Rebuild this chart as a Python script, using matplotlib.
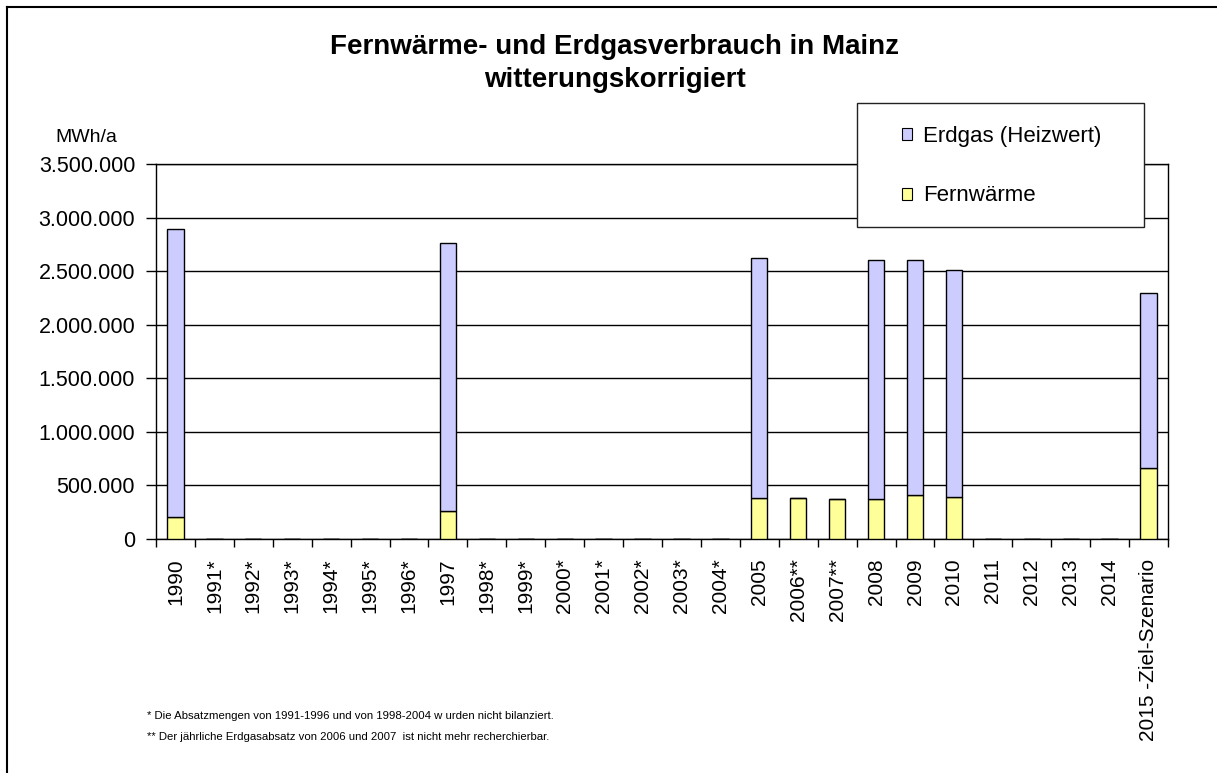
import numpy as np
import matplotlib
matplotlib.use("Agg")
import matplotlib.pyplot as plt
from matplotlib.lines import Line2D
from matplotlib.patches import Patch, Rectangle

plt.rcParams['font.family'] = ['Liberation Sans', 'DejaVu Sans']

# ----------------------------
# Data (MWh/a)
# ----------------------------

years = ["1990", "1991*", "1992*", "1993*", "1994*", "1995*", "1996*", "1997",
         "1998*", "1999*", "2000*", "2001*", "2002*", "2003*", "2004*", "2005",
         "2006**", "2007**", "2008", "2009", "2010", "2011", "2012", "2013",
         "2014", "2015 -Ziel-Szenario"]

fernwaerme = [210000, 0, 0, 0, 0, 0, 0, 265000,
              0, 0, 0, 0, 0, 0, 0, 380000,
              380000, 370000, 370000, 410000, 395000, 0, 0, 0,
              0, 660000]

erdgas = [2680000, 0, 0, 0, 0, 0, 0, 2495000,
          0, 0, 0, 0, 0, 0, 0, 2240000,
          0, 0, 2235000, 2195000, 2115000, 0, 0, 0,
          0, 1640000]

footnotes = ["* Die Absatzmengen von 1991-1996 und von 1998-2004 w urden nicht bilanziert.",
             "** Der jährliche Erdgasabsatz von 2006 und 2007  ist nicht mehr recherchierbar."]

# ----------------------------
# Plot
# ----------------------------

W, H = 1217, 773
fig = plt.figure(figsize=(W / 100, H / 100), dpi=100)

# chart border (only top/left visible)
fig.add_artist(Line2D([7 / W, 1], [1 - 7 / H, 1 - 7 / H], color="black", lw=1.5))
fig.add_artist(Line2D([7 / W, 7 / W], [0, 1 - 7 / H], color="black", lw=1.5))

ax = fig.add_axes([156 / W, 1 - 539 / H, 1012 / W, 375 / H])

x = np.arange(len(years))
fern = np.array(fernwaerme)
gas = np.array(erdgas)

ax.bar(x, fern, width=0.42, color="#FFFF99", edgecolor="black", linewidth=1, zorder=3)
ax.bar(x, gas, width=0.42, bottom=fern, color="#CCCCFF", edgecolor="black",
       linewidth=1, zorder=3)

ax.set_xlim(-0.5, len(years) - 0.5)
ax.set_ylim(0, 3500000)

yt = np.arange(0, 3500001, 500000)
ax.set_yticks(yt)
ax.set_yticklabels([f"{v:,}".replace(",", ".") for v in yt], fontsize=15.5)
ax.yaxis.grid(True, color="black", linewidth=1)
ax.set_axisbelow(True)

ax.set_xticks(x)
ax.set_xticklabels(years, rotation=90, fontsize=15, va="top")
ax.tick_params(axis="x", which="major", length=0, pad=14)
ax.set_xticks(np.arange(-0.5, len(years), 1), minor=True)
ax.tick_params(axis="x", which="minor", length=6, width=1, direction="out")
ax.tick_params(axis="y", length=7, width=1, direction="out", pad=8)

for s in ax.spines.values():
    s.set_color("black")
    s.set_linewidth(1)

fig.text(86 / W, 1 - 138 / H, "MWh/a", fontsize=14, ha="center", va="center")

fig.text(615 / W, 1 - 47 / H, "Fernwärme- und Erdgasverbrauch in Mainz",
         fontsize=20, fontweight="bold", ha="center", va="center")
fig.text(615 / W, 1 - 80 / H, "witterungskorrigiert",
         fontsize=20, fontweight="bold", ha="center", va="center")

# legend box
fig.add_artist(Rectangle((857 / W, 1 - 227 / H), 287 / W, 124 / H,
                         transform=fig.transFigure, facecolor="white",
                         edgecolor="#222222", linewidth=1, zorder=5))
handles = [Patch(facecolor="#CCCCFF", edgecolor="black", linewidth=0.8),
           Patch(facecolor="#FFFF99", edgecolor="black", linewidth=0.8)]
leg = fig.legend(handles, ["Erdgas (Heizwert)", "Fernwärme"],
                 loc="center left", bbox_to_anchor=(902 / W, 1 - 166 / H),
                 fontsize=16, frameon=False,
                 handlelength=0.45, handleheight=0.45, handletextpad=0.5,
                 labelspacing=1.75, borderpad=0, borderaxespad=0)
leg.set_zorder(6)

fig.text(147 / W, 1 - 716 / H, footnotes[0], fontsize=8.2, ha="left", va="center")
fig.text(147 / W, 1 - 737 / H, footnotes[1], fontsize=8.2, ha="left", va="center")

fig.savefig("out.png", dpi=100)
